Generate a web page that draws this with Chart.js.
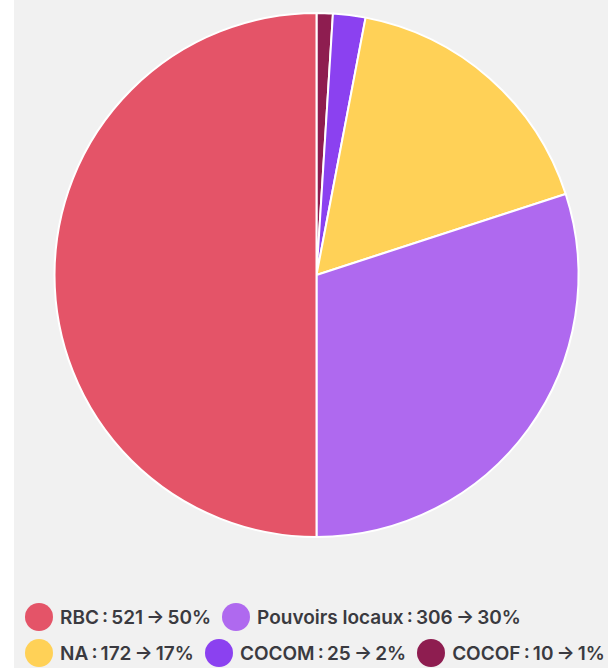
<!DOCTYPE html>
<html lang="fr">
<head>
<meta charset="utf-8">
<title>Répartition</title>
<script src="https://cdn.jsdelivr.net/npm/chart.js@4/dist/chart.umd.min.js"></script>
<style>
  html, body { margin: 0; padding: 0; }
  body { width: 608px; height: 668px; overflow: hidden; background: #fff; position: relative; }
  #panel { position: absolute; left: 14px; top: 0; width: 620px; height: 668px; background: #f1f1f1; }
  #chart-box { position: absolute; left: 14px; top: 0; width: 605px; height: 550px; }
  #legende {
    position: absolute; left: 25px; top: 603px; width: 600px;
    display: flex; flex-wrap: wrap; column-gap: 11px; row-gap: 8px;
    font-family: Inter, "Noto Sans", sans-serif; font-weight: 600; font-size: 19px;
    color: #3a3a40;
  }
  .item { display: flex; align-items: center; white-space: nowrap; height: 28px; }
  .pastille { width: 28px; height: 28px; border-radius: 50%; margin-right: 7px; flex: none; }
</style>
</head>
<body>
<div id="panel"></div>
<div id="chart-box"><canvas id="repartition"></canvas></div>
<div id="legende"></div>

<script>
// Ordre de la légende
const entites = ['RBC', 'Pouvoirs locaux', 'NA', 'COCOM', 'COCOF'];
const nombres = [521, 306, 172, 25, 10];
const pourcentages = [50, 30, 17, 2, 1];
const couleurs = ['#e45468', '#af69ef', '#ffd157', '#8b41f0', '#8e1d50'];

// Le camembert tourne dans le sens horaire depuis le haut en commençant par la plus petite part
const ordre = entites.map((_, i) => i).reverse();

const ctx = document.getElementById('repartition').getContext('2d');

const chart = new Chart(ctx, {
    type: 'pie',
    data: {
        labels: ordre.map(i => entites[i]),
        datasets: [{
            data: ordre.map(i => pourcentages[i]),
            backgroundColor: ordre.map(i => couleurs[i]),
            borderColor: '#ffffff',
            borderWidth: 2
        }]
    },
    options: {
        responsive: true,
        maintainAspectRatio: false,
        animation: false,
        layout: {
            padding: { top: 12, bottom: 12 }
        },
        plugins: {
            legend: { display: false },
            tooltip: { enabled: false }
        }
    }
});

// --- Légende HTML ---
const legende = document.getElementById('legende');
entites.forEach((nom, i) => {
    const item = document.createElement('div');
    item.className = 'item';
    const pastille = document.createElement('span');
    pastille.className = 'pastille';
    pastille.style.background = couleurs[i];
    const texte = document.createElement('span');
    texte.textContent = `${nom}\u202f:\u202f${nombres[i]}\u202f→\u202f${pourcentages[i]}%`;
    item.appendChild(pastille);
    item.appendChild(texte);
    legende.appendChild(item);
});
</script>
</body>
</html>
